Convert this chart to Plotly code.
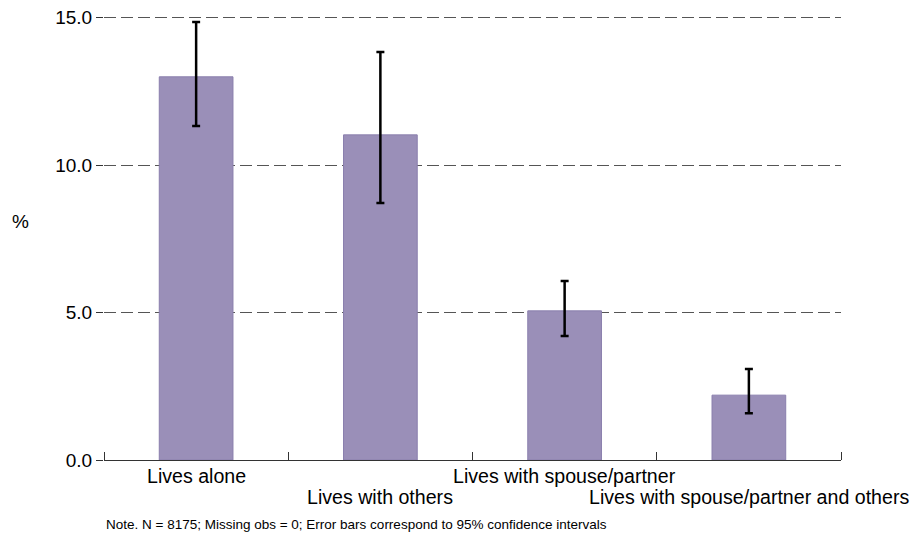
import plotly.graph_objects as go

# Living arrangement categories and estimated prevalence (%) with 95% CIs
categories = [
    "Lives alone",
    "Lives with others",
    "Lives with spouse/partner",
    "Lives with spouse/partner and others",
]
values = [13.0, 11.03, 5.06, 2.2]
ci_low = [11.33, 8.72, 4.21, 1.59]
ci_high = [14.86, 13.84, 6.07, 3.09]
y_ticks = [0, 5, 10, 15]

positions = list(range(len(categories)))
err_plus = [h - v for h, v in zip(ci_high, values)]
err_minus = [v - l for v, l in zip(values, ci_low)]

FONT = "Liberation Sans, Arial, sans-serif"

fig = go.Figure(
    go.Bar(
        x=positions,
        y=values,
        width=0.4,
        marker=dict(color="#9a8fb8", line=dict(color="#8a7fad", width=1)),
        error_y=dict(
            type="data",
            symmetric=False,
            array=err_plus,
            arrayminus=err_minus,
            color="black",
            thickness=2.5,
            width=4,
        ),
        hoverinfo="skip",
    )
)

# Category names, staggered over two rows so the long names don't collide
label_rows = [-0.036, -0.081]
annotations = [
    dict(
        text=name,
        xref="x",
        yref="paper",
        x=pos,
        y=label_rows[i % 2],
        xanchor="center",
        yanchor="middle",
        showarrow=False,
        font=dict(family=FONT, size=19.6, color="black"),
    )
    for i, (pos, name) in enumerate(zip(positions, categories))
]
annotations += [
    dict(
        text="%",
        xref="paper",
        yref="paper",
        x=-0.1275,
        y=0.529,
        showarrow=False,
        font=dict(family=FONT, size=19, color="black"),
    ),
    dict(
        text="Note. N = 8175; Missing obs = 0; Error bars correspond to 95% confidence intervals",
        xref="paper",
        yref="paper",
        x=0.0,
        y=-0.1425,
        xanchor="left",
        yanchor="middle",
        showarrow=False,
        font=dict(family=FONT, size=13.5, color="black"),
    ),
]

fig.update_layout(
    width=914,
    height=538,
    margin=dict(l=104, r=73, t=9, b=78),
    paper_bgcolor="white",
    plot_bgcolor="white",
    showlegend=False,
    font=dict(family=FONT, size=19, color="black"),
    xaxis=dict(
        range=[-0.5, len(categories) - 0.5],
        tickmode="array",
        tickvals=positions,
        showticklabels=False,
        automargin=False,
        ticks="",
        showgrid=False,
        zeroline=False,
        showline=True,
        linecolor="#333333",
        linewidth=1.2,
        minor=dict(
            tickmode="array",
            tickvals=[p - 0.5 for p in positions] + [positions[-1] + 0.5],
            ticks="inside",
            ticklen=8,
            tickwidth=1,
            tickcolor="#333333",
            showgrid=False,
        ),
    ),
    yaxis=dict(
        range=[0, 15.3],
        automargin=False,
        tickmode="array",
        tickvals=y_ticks,
        tickformat=".1f",
        ticks="outside",
        ticklen=7,
        tickwidth=1,
        tickcolor="#333333",
        showgrid=True,
        gridcolor="#555555",
        gridwidth=1,
        griddash="12px,5px",
        zeroline=False,
        showline=False,
        tickfont=dict(family=FONT, size=19, color="black"),
    ),
    annotations=annotations,
)

fig.write_html("out.html")
